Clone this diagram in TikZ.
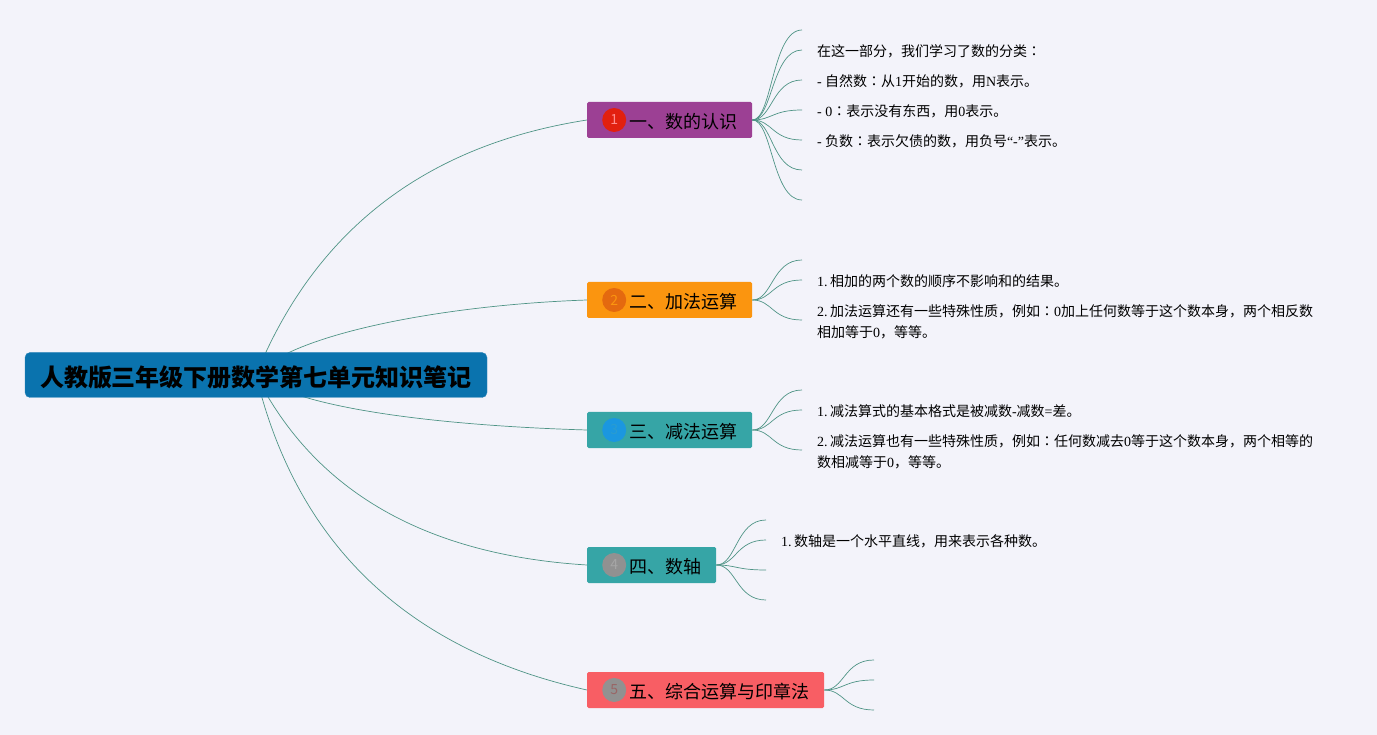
\documentclass[tikz,border=0pt]{standalone}
\usepackage{fontspec}
\usepackage{xcolor}
\usetikzlibrary{positioning,backgrounds}
\setmainfont{Noto Sans CJK SC}
\newfontfamily\latn{Liberation Serif}
\newfontfamily\cjktc{Noto Sans CJK TC}
\newcommand{\lt}[1]{{\latn #1}}
\newcommand{\mh}{{\cjktc ：}}
\definecolor{pagebg}{HTML}{F3F3FA}
\definecolor{linkcol}{HTML}{4F9486}
\definecolor{rootcol}{HTML}{0A73AE}
\definecolor{purplecol}{HTML}{9C4094}
\definecolor{orangecol}{HTML}{FB950F}
\definecolor{tealcol}{HTML}{36A5A6}
\definecolor{redcol}{HTML}{F85E64}
\definecolor{badgeblue}{HTML}{1B97E0}
\definecolor{badgeblue2}{HTML}{2A9CD0}
\definecolor{badgered}{HTML}{E2200F}
\definecolor{badgeorange}{HTML}{E4690F}
\definecolor{badgegray}{HTML}{919191}

\begin{document}
\begin{tikzpicture}[x=1pt, y=-1pt, node distance=15pt]
    \tikzstyle{root} = [rectangle, draw=rootcol!85!white, fill=rootcol, rounded corners=5pt, inner xsep=15pt, inner ysep=0pt, minimum height=45pt, text height=24pt, text depth=1pt, font=\fontsize{24}{28}\selectfont\bfseries]
    \tikzstyle{branch} = [rectangle, anchor=west, rounded corners=1.5pt, inner xsep=15pt, inner ysep=0pt, minimum height=36pt, text height=19pt, text depth=2pt, font=\fontsize{18}{22}\selectfont]
    \tikzstyle{badge} = [circle, inner sep=0pt, minimum size=24pt, font=\fontsize{14}{14}\selectfont]
    \tikzstyle{leaf} = [right=15pt of #1, inner sep=0pt, align=left, font=\fontsize{14}{21}\selectfont]
    \tikzstyle{link} = [draw=linkcol, line width=0.7pt]

    \useasboundingbox (0,0) rectangle (1377,735);

    % Nodes
    \node [root] (title) at (256,375) {人教版三年级下册数学第七单元知识笔记};
    \node [branch, fill=purplecol] (sec1) at (587,120) {\hspace*{27pt}一、数的认识};
    \node [branch, fill=orangecol] (sec2) at (587,300) {\hspace*{27pt}二、加法运算};
    \node [branch, fill=tealcol] (sec3) at (587,430) {\hspace*{27pt}三、减法运算};
    \node [branch, fill=tealcol] (sec4) at (587,565) {\hspace*{27pt}四、数轴};
    \node [branch, fill=redcol] (sec5) at (587,690) {\hspace*{27pt}五、综合运算与印章法};

    % Badges
    \node [badge, fill=badgered, text=red!45!white, right=3pt of sec1.west, xshift=12pt] (num1) {1};
    \node [badge, fill=badgeorange, text=orangecol, right=3pt of sec2.west, xshift=12pt] (num2) {2};
    \node [badge, fill=badgeblue, text=badgeblue2, right=3pt of sec3.west, xshift=12pt] (num3) {3};
    \node [badge, fill=badgegray, text=gray!70, right=3pt of sec4.west, xshift=12pt] (num4) {4};
    \node [badge, fill=badgegray, text=gray!80!red, right=3pt of sec5.west, xshift=12pt] (num5) {5};

    % Leaf ends
    \foreach \leafname/\leafx/\leafy in {a1/802/30, a2/802/50, a3/802/80, a4/802/110, a5/802/140, a6/802/170, a7/802/200,
        b1/802/260, b2/802/280, b3/802/320, c1/802/390, c2/802/410, c3/802/450,
        d1/766/520, d2/766/540, d3/766/570, d4/766/600, e1/874/660, e2/874/680, e3/874/710}
        \coordinate (\leafname) at (\leafx,\leafy);

    % Leaf texts
    \node [leaf=a2, yshift=-1pt] (t1) {在这一部分，我们学习了数的分类\mh};
    \node [leaf=a3, yshift=-1pt] (t2) {\lt{-} 自然数\mh 从\lt{1}开始的数，用\lt{N}表示。};
    \node [leaf=a4, yshift=-1pt] (t3) {\lt{- 0}\mh 表示没有东西，用\lt{0}表示。};
    \node [leaf=a5, yshift=-1pt] (t4) {\lt{-} 负数\mh 表示欠债的数，用负号\lt{“-”}表示。};
    \node [leaf=b2, yshift=-1pt] (t5) {\lt{1.\,}相加的两个数的顺序不影响和的结果。};
    \node [leaf=b3, yshift=-2pt] (t6) {\lt{2.\,}加法运算还有一些特殊性质，例如\mh\lt{0}加上任何数等于这个数本身，两个相反数\\相加等于\lt{0}，等等。};
    \node [leaf=c2, yshift=-1pt] (t7) {\lt{1.\,}减法算式的基本格式是被减数\lt{-}减数\lt{=}差。};
    \node [leaf=c3, yshift=-2pt] (t8) {\lt{2.\,}减法运算也有一些特殊性质，例如\mh 任何数减去\lt{0}等于这个数本身，两个相等的\\数相减等于\lt{0}，等等。};
    \node [leaf=d2, yshift=-1pt] (t9) {\lt{1.\,}数轴是一个水平直线，用来表示各种数。};

    % Edges
    \begin{scope}[on background layer]
        \fill [pagebg] (0,0) rectangle (1377,735);
        \draw [link] (title.center) .. controls (315,230) and (426,145) .. (sec1.west);
        \draw [link] (title.center) .. controls (290,335) and (440,305) .. (sec2.west);
        \draw [link] (title.center) .. controls (300,410) and (450,426) .. (sec3.west);
        \draw [link] (title.center) .. controls (315,492) and (426,555) .. (sec4.west);
        \draw [link] (title.center) .. controls (297,545) and (408,650) .. (sec5.west);
        \foreach \leafname in {a1,a2,a3,a4,a5,a6,a7}
            \draw [link] (sec1.east) .. controls +(20,0) and +(-30,0) .. (\leafname);
        \foreach \leafname in {b1,b2,b3}
            \draw [link] (sec2.east) .. controls +(20,0) and +(-30,0) .. (\leafname);
        \foreach \leafname in {c1,c2,c3}
            \draw [link] (sec3.east) .. controls +(20,0) and +(-30,0) .. (\leafname);
        \foreach \leafname in {d1,d2,d3,d4}
            \draw [link] (sec4.east) .. controls +(20,0) and +(-30,0) .. (\leafname);
        \foreach \leafname in {e1,e2,e3}
            \draw [link] (sec5.east) .. controls +(20,0) and +(-30,0) .. (\leafname);
    \end{scope}
\end{tikzpicture}
\end{document}
